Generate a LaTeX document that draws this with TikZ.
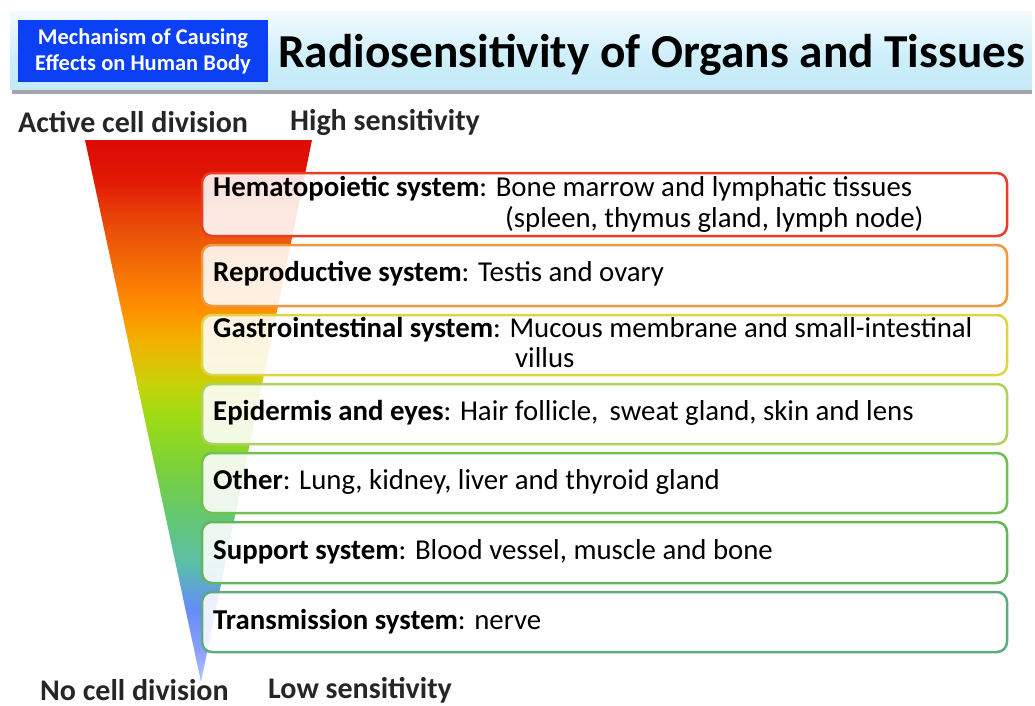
\documentclass[tikz,border=0pt]{standalone}
\usepackage{fontspec}
\setmainfont{Carlito}
\definecolor{tagblue}{RGB}{12,64,245}
\definecolor{bandtop}{RGB}{242,251,254}
\definecolor{bandbot}{RGB}{196,233,248}
\definecolor{cA}{RGB}{232,62,40}
\definecolor{cB}{RGB}{240,152,64}
\definecolor{cC}{RGB}{224,212,70}
\definecolor{cD}{RGB}{172,210,90}
\definecolor{cE}{RGB}{112,192,84}
\definecolor{cF}{RGB}{100,182,92}
\definecolor{cG}{RGB}{96,170,130}
\pgfdeclareverticalshading{trishade}{100bp}{%
  color(0bp)=(rgb,255:red,185;green,195;blue,255);
  color(25bp)=(rgb,255:red,185;green,195;blue,255);
  color(27.8bp)=(rgb,255:red,140;green,160;blue,255);
  color(31.8bp)=(rgb,255:red,100;green,140;blue,250);
  color(35.8bp)=(rgb,255:red,90;green,190;blue,170);
  color(40.5bp)=(rgb,255:red,100;green,200;blue,110);
  color(45.1bp)=(rgb,255:red,125;green,210;blue,55);
  color(49.7bp)=(rgb,255:red,160;green,220;blue,20);
  color(52.5bp)=(rgb,255:red,200;green,210;blue,10);
  color(56.2bp)=(rgb,255:red,240;green,180;blue,0);
  color(59.3bp)=(rgb,255:red,255;green,145;blue,0);
  color(66.7bp)=(rgb,255:red,235;green,80;blue,10);
  color(71.3bp)=(rgb,255:red,225;green,25;blue,5);
  color(75bp)=(rgb,255:red,220;green,10;blue,5);
  color(100bp)=(rgb,255:red,220;green,10;blue,5)}
\pgfdeclareverticalshading{bandshade}{100bp}{%
  color(0bp)=(bandbot); color(25bp)=(bandbot); color(45bp)=(rgb,255:red,205;green,238;blue,250);
  color(75bp)=(bandtop); color(100bp)=(bandtop)}
\tikzset{
  orgbox/.style={draw=#1, rounded corners=10pt, line width=2.5pt, fill=white, fill opacity=0.88,
    minimum width=805pt, inner sep=0pt, outer sep=0pt},
  lab/.style={anchor=west, inner sep=0pt, font=\fontsize{28.8}{32}\selectfont, text=black},
  side/.style={anchor=west, inner sep=0pt, font=\fontsize{30}{32}\selectfont\bfseries, text=black!85},
  tag/.style={fill=tagblue, text=white, minimum width=250pt, minimum height=62pt, inner sep=0pt,
    align=center, font=\fontsize{22.5}{26}\selectfont\bfseries},
}
\begin{document}
\begin{tikzpicture}[x=1pt,y=-1pt]
\useasboundingbox (0,0) rectangle (1035,706);
% title band
\fill[black!35] (12,88) rectangle (1032,94);
\shade[shading=bandshade] (10,12) rectangle (1032,90);
\node[tag] (tagbox) at (143,51) {Mechanism of Causing\\Effects on Human Body};
\node[anchor=west, inner sep=0pt, font=\fontsize{47.3}{50}\selectfont\bfseries] (title) at (278,55) {Radiosensitivity of Organs and Tissues};
% side labels
\node[side] (act) at (18,122) {Active cell division};
\node[side] (high) at (290,122) {High sensitivity};
\node[side] (nocd) at (40,690) {No cell division};
\node[side] (low) at (268,690) {Low sensitivity};
% triangle
\shade[shading=trishade] (85,140) -- (312,140) -- (201,682) -- cycle;
% boxes
\node[orgbox=cA, minimum height=63pt] (b1) at (604.5,204.5) {};
\node[orgbox=cB, minimum height=61pt] (b2) at (604.5,275.5) {};
\node[orgbox=cC, minimum height=60pt] (b3) at (604.5,345) {};
\node[orgbox=cD, minimum height=60pt] (b4) at (604.5,414) {};
\node[orgbox=cE, minimum height=60pt] (b5) at (604.5,483) {};
\node[orgbox=cF, minimum height=61pt] (b6) at (604.5,552.5) {};
\node[orgbox=cG, minimum height=60pt] (b7) at (604.5,622) {};
% texts
\node[lab] (t1) at (213,189) {\textbf{Hematopoietic system}: Bone marrow and lymphatic tissues};
\node[lab] (t1b) at (505,219) {(spleen, thymus gland, lymph node)};
\node[lab] (t2) at (213,274) {\textbf{Reproductive system}: Testis and ovary};
\node[lab] (t3) at (213,330) {\textbf{Gastrointestinal system}: Mucous membrane and small-intestinal};
\node[lab] (t3b) at (515,358) {villus};
\node[lab] (t4) at (213,413) {\textbf{Epidermis and eyes}: Hair follicle,\, sweat gland, skin and lens};
\node[lab] (t5) at (213,482) {\textbf{Other}: Lung, kidney, liver and thyroid gland};
\node[lab] (t6) at (213,552) {\textbf{Support system}: Blood vessel, muscle and bone};
\node[lab] (t7) at (213,622) {\textbf{Transmission system}: nerve};
\end{tikzpicture}
\end{document}
